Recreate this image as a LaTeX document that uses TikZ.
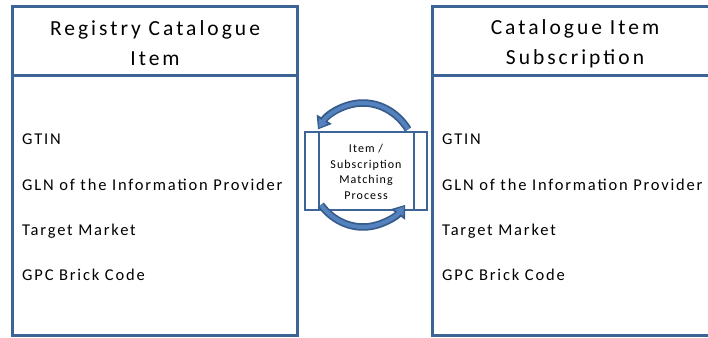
\documentclass[tikz,border=0pt]{standalone}
\usepackage{fontspec}
\setmainfont{Carlito}
\newfontfamily\titlespaced[LetterSpace=14]{Carlito}
\newfontfamily\fieldspaced[LetterSpace=11]{Carlito}
\newfontfamily\procspaced[LetterSpace=9]{Carlito}
\usetikzlibrary{arrows.meta}
\definecolor{frameblue}{RGB}{60,100,150}
\definecolor{arrowdark}{RGB}{55,92,140}
\definecolor{arrowlight}{RGB}{84,130,190}
\tikzset{
  frame/.style={draw=frameblue, line width=3pt},
  divider/.style={draw=frameblue, line width=2.6pt},
  title/.style={align=center, font=\titlespaced\fontsize{21.5}{30}\selectfont, inner sep=0pt},
  field/.style={anchor=base west, font=\fieldspaced\fontsize{16.5}{18}\selectfont, inner sep=0pt},
  procbox/.style={draw=frameblue, line width=2pt, fill=white, minimum width=122pt, minimum height=78pt, inner sep=0pt},
  proctext/.style={align=center, font=\procspaced\fontsize{12}{15.5}\selectfont, inner sep=0pt},
  cycleout/.style={draw=arrowdark, line width=7.5pt, -{Triangle[length=12pt,width=17pt]}},
  cyclein/.style={draw=arrowlight, line width=4pt, -{Triangle[length=8pt,width=10pt]}, shorten >=2pt}
}
\begin{document}
\begin{tikzpicture}[x=1pt,y=-1pt]
\useasboundingbox (0,0) rectangle (708,337);
\clip (0,0) rectangle (708,337);
\fill[white] (0,0) rectangle (708,337);

% left box
\draw[frame] (12.5,6.5) rectangle (297.5,335.5);
\draw[divider] (12.5,75.5) -- (297.5,75.5);
\node[title] (lt) at (155,43.5) {Registry Catalogue\\Item};
\node[field] (l1) at (22,144.5) {GTIN};
\node[field] (l2) at (22,190) {GLN of the Information Provider};
\node[field] (l3) at (22,235.5) {Target Market};
\node[field] (l4) at (22,280.5) {GPC Brick Code};

% right box
\draw[frame] (432.5,6.5) rectangle (720,335.5);
\draw[divider] (432.5,75.5) -- (720,75.5);
\node[title] (rt) at (575,43.5) {Catalogue Item\\Subscription};
\node[field] (r1) at (442,144.5) {GTIN};
\node[field] (r2) at (442,190) {GLN of the Information Provider};
\node[field] (r3) at (442,235.5) {Target Market};
\node[field] (r4) at (442,280.5) {GPC Brick Code};

% process box
\node[procbox] (proc) at (366,171) {};
\draw[frameblue, line width=2pt] ([xshift=15pt]proc.north west) -- ([xshift=15pt]proc.south west);
\draw[frameblue, line width=2pt] ([xshift=-14pt]proc.north east) -- ([xshift=-14pt]proc.south east);
\node[proctext] (pt) at (366,172) {Item /\\Subscription\\Matching\\Process};

% cycle arrows
\coordinate (c) at (363,165);
\draw[cycleout] (c) ++(35:55pt and 62pt) arc[start angle=35,end angle=145,x radius=55pt,y radius=62pt];
\draw[cyclein] (c) ++(35:55pt and 62pt) arc[start angle=35,end angle=145,x radius=55pt,y radius=62pt];
\draw[cycleout] (c) ++(220:55pt and 62pt) arc[start angle=220,end angle=320,x radius=55pt,y radius=62pt];
\draw[cyclein] (c) ++(220:55pt and 62pt) arc[start angle=220,end angle=320,x radius=55pt,y radius=62pt];
\end{tikzpicture}
\end{document}
